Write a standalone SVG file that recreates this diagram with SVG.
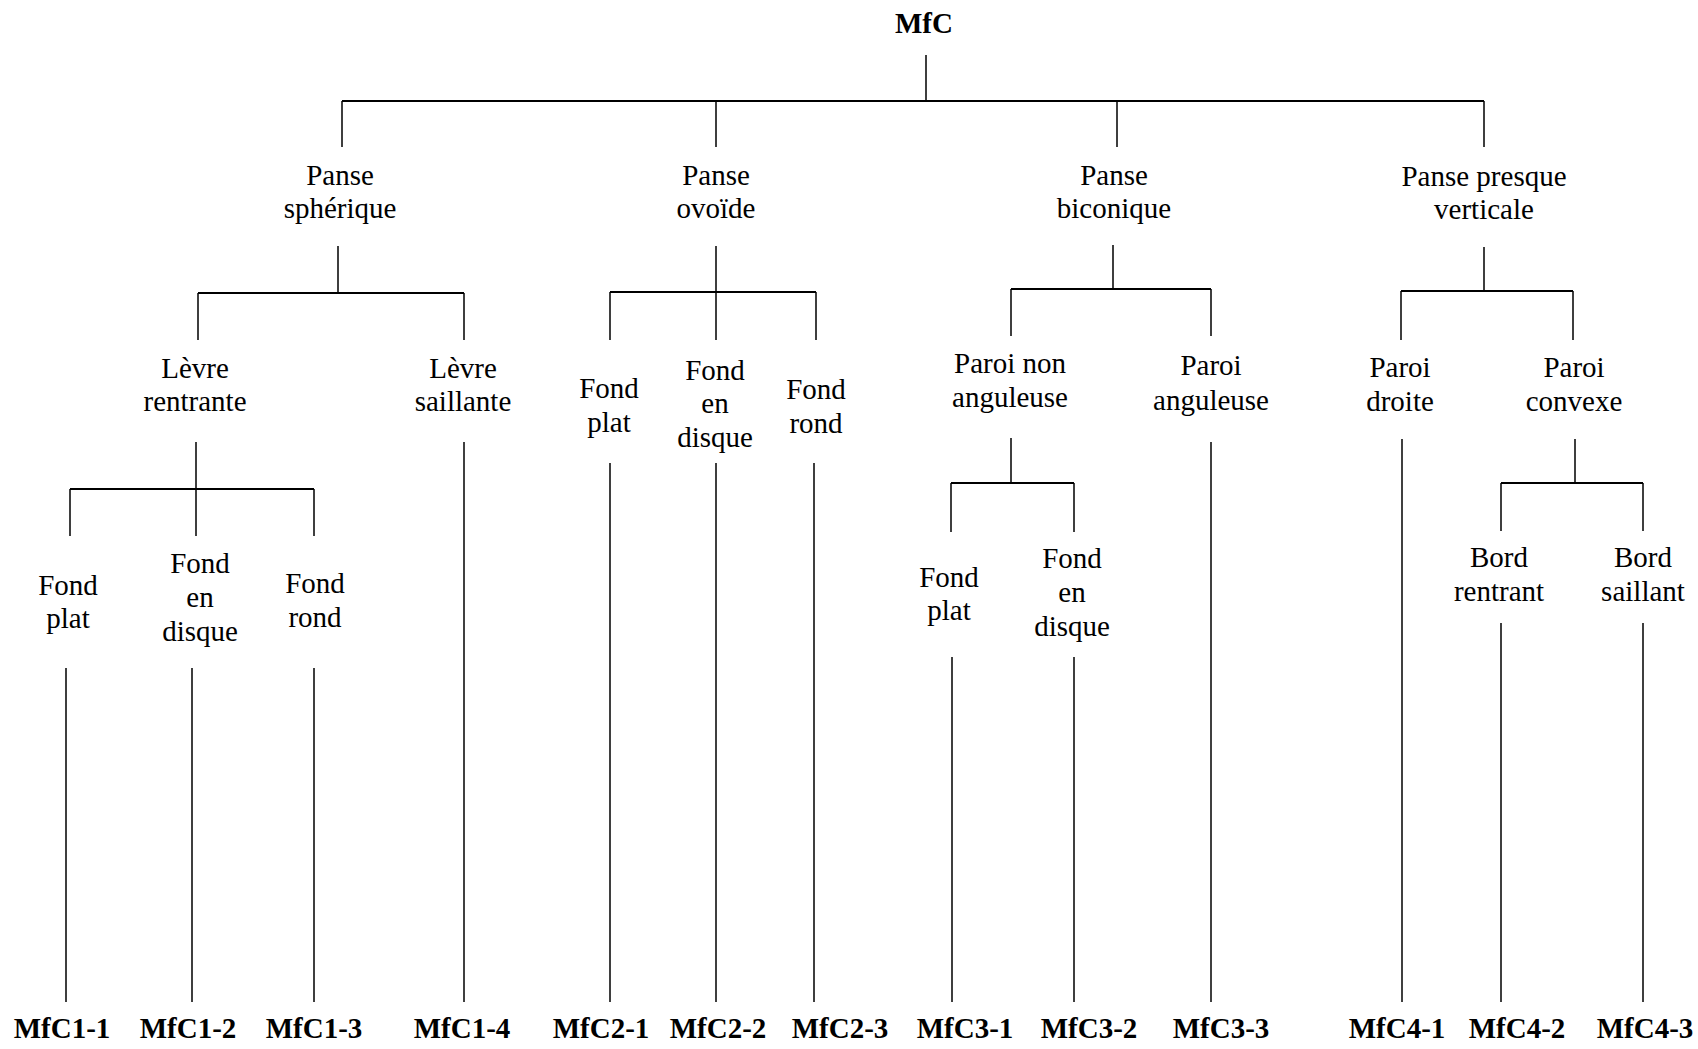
<svg xmlns="http://www.w3.org/2000/svg" width="1698" height="1049" viewBox="0 0 1698 1049">
<style>
text{font-family:"Liberation Serif","Times New Roman",serif;font-size:29px;fill:#000;text-anchor:middle}
.b{font-weight:bold}
.h{stroke:#000;stroke-width:2;fill:none}
.v{stroke:#000;stroke-width:1.5;fill:none}
</style>
<rect width="1698" height="1049" fill="#fff"/>
<g id="connectors">
<path class="v" d="M926 55V101M342 101V147M716 101V147M1117 101V147M1484 101V147"/>
<path class="h" d="M342 101H1484"/>
<path class="v" d="M338 246V293M198 293V340M464 293V340"/>
<path class="h" d="M198 293H464"/>
<path class="v" d="M716 246V292M610 292V340M716 292V340M816 292V340"/>
<path class="h" d="M610 292H816"/>
<path class="v" d="M1113 245V289M1011 289V336M1211 289V336"/>
<path class="h" d="M1011 289H1211"/>
<path class="v" d="M1484 247V291M1401 291V340M1573 291V340"/>
<path class="h" d="M1401 291H1573"/>
<path class="v" d="M196 442V489M70 489V536M196 489V536M314 489V536"/>
<path class="h" d="M70 489H314"/>
<path class="v" d="M66 668V1002M192 668V1002M314 668V1002"/>
<path class="v" d="M464 442V1002"/>
<path class="v" d="M610 463V1002M716 463V1002M814 463V1002"/>
<path class="v" d="M1011 438V483M951 483V532M1074 483V532"/>
<path class="h" d="M951 483H1074"/>
<path class="v" d="M952 657V1002M1074 657V1002"/>
<path class="v" d="M1211 442V1002"/>
<path class="v" d="M1402 439V1002"/>
<path class="v" d="M1575 439V483M1501 483V531M1643 483V531"/>
<path class="h" d="M1501 483H1643"/>
<path class="v" d="M1501 623V1002M1643 623V1002"/>
</g>
<g id="n-root"><text class="b" x="924" y="33">MfC</text></g>
<g id="n-spherique"><text x="340" y="185">Panse</text><text x="340" y="218">sphérique</text></g>
<g id="n-ovoide"><text x="716" y="185">Panse</text><text x="716" y="218">ovoïde</text></g>
<g id="n-biconique"><text x="1114" y="185">Panse</text><text x="1114" y="218">biconique</text></g>
<g id="n-verticale"><text x="1484" y="186">Panse presque</text><text x="1484" y="219">verticale</text></g>
<g id="n-levre-rentrante"><text x="195" y="378">Lèvre</text><text x="195" y="411">rentrante</text></g>
<g id="n-levre-saillante"><text x="463" y="378">Lèvre</text><text x="463" y="411">saillante</text></g>
<g id="n-c2-plat"><text x="609" y="398">Fond</text><text x="609" y="432">plat</text></g>
<g id="n-c2-disque"><text x="715" y="380">Fond</text><text x="715" y="413">en</text><text x="715" y="447">disque</text></g>
<g id="n-c2-rond"><text x="816" y="399">Fond</text><text x="816" y="433">rond</text></g>
<g id="n-paroi-non"><text x="1010" y="373">Paroi non</text><text x="1010" y="407">anguleuse</text></g>
<g id="n-paroi-ang"><text x="1211" y="375">Paroi</text><text x="1211" y="410">anguleuse</text></g>
<g id="n-paroi-droite"><text x="1400" y="377">Paroi</text><text x="1400" y="411">droite</text></g>
<g id="n-paroi-convexe"><text x="1574" y="377">Paroi</text><text x="1574" y="411">convexe</text></g>
<g id="n-c1-plat"><text x="68" y="595">Fond</text><text x="68" y="628">plat</text></g>
<g id="n-c1-disque"><text x="200" y="573">Fond</text><text x="200" y="607">en</text><text x="200" y="641">disque</text></g>
<g id="n-c1-rond"><text x="315" y="593">Fond</text><text x="315" y="627">rond</text></g>
<g id="n-c3-plat"><text x="949" y="587">Fond</text><text x="949" y="620">plat</text></g>
<g id="n-c3-disque"><text x="1072" y="568">Fond</text><text x="1072" y="602">en</text><text x="1072" y="636">disque</text></g>
<g id="n-bord-rentrant"><text x="1499" y="567">Bord</text><text x="1499" y="601">rentrant</text></g>
<g id="n-bord-saillant"><text x="1643" y="567">Bord</text><text x="1643" y="601">saillant</text></g>
<g id="n-mfc1-1"><text class="b" x="62" y="1038">MfC1-1</text></g>
<g id="n-mfc1-2"><text class="b" x="188" y="1038">MfC1-2</text></g>
<g id="n-mfc1-3"><text class="b" x="314" y="1038">MfC1-3</text></g>
<g id="n-mfc1-4"><text class="b" x="462" y="1038">MfC1-4</text></g>
<g id="n-mfc2-1"><text class="b" x="601" y="1038">MfC2-1</text></g>
<g id="n-mfc2-2"><text class="b" x="718" y="1038">MfC2-2</text></g>
<g id="n-mfc2-3"><text class="b" x="840" y="1038">MfC2-3</text></g>
<g id="n-mfc3-1"><text class="b" x="965" y="1038">MfC3-1</text></g>
<g id="n-mfc3-2"><text class="b" x="1089" y="1038">MfC3-2</text></g>
<g id="n-mfc3-3"><text class="b" x="1221" y="1038">MfC3-3</text></g>
<g id="n-mfc4-1"><text class="b" x="1397" y="1038">MfC4-1</text></g>
<g id="n-mfc4-2"><text class="b" x="1517" y="1038">MfC4-2</text></g>
<g id="n-mfc4-3"><text class="b" x="1645" y="1038">MfC4-3</text></g>
</svg>
